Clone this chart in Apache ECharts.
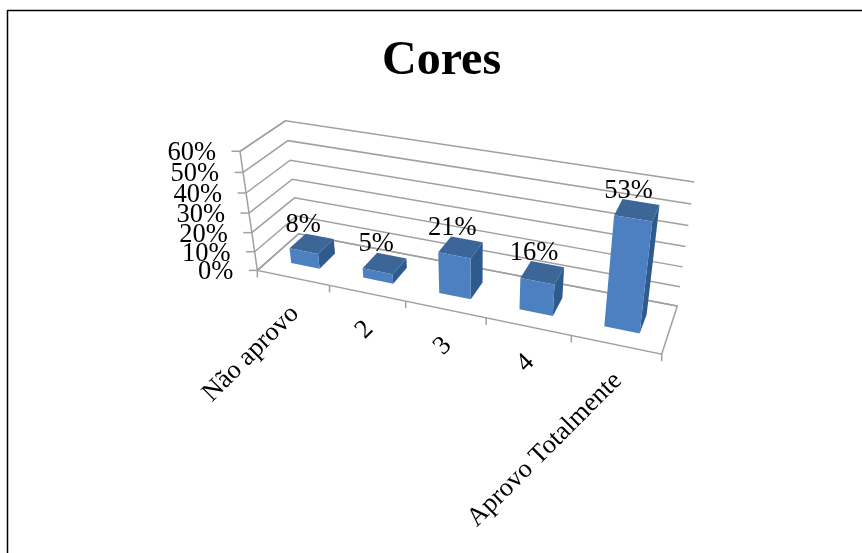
<!DOCTYPE html>
<html>
<head>
<meta charset="utf-8">
<style>html,body{margin:0;padding:0;background:#fff}#chart{width:862px;height:553px}</style>
<script src="https://cdn.jsdelivr.net/npm/echarts@6/dist/echarts.min.js"></script>
</head>
<body>
<div id="chart"></div>
<script>
// Survey results
const categories = ['Não aprovo', '2', '3', '4', 'Aprovo Totalmente'];
const values = [8, 5, 21, 16, 53];
const yTicks = [0, 10, 20, 30, 40, 50, 60];
const yMax = 60;
const serif = 'Liberation Serif';

// Corners of the 3D plot box: [category position 0..1, depth 0..1, height 0..1] -> screen pixel
const boxCorners = [
  [[0, 0, 0], [256.7, 269.3]],
  [[0, 1, 0], [299.3, 235]],
  [[1, 1, 0], [677.3, 305]],
  [[1, 0, 0], [661.7, 355]],
  [[0, 0, 1], [240.7, 151.7]],
  [[0, 1, 1], [285, 120]],
  [[1, 1, 1], [694.3, 182.3]]
];

// Least-squares fit of a 3x4 camera matrix (last entry fixed at 1)
function fitCamera(pairs) {
  const rows = [], rhs = [];
  pairs.forEach(([[X, Y, Z], [x, y]]) => {
    rows.push([X, Y, Z, 1, 0, 0, 0, 0, -x * X, -x * Y, -x * Z]); rhs.push(x);
    rows.push([0, 0, 0, 0, X, Y, Z, 1, -y * X, -y * Y, -y * Z]); rhs.push(y);
  });
  const n = 11;
  const A = [];
  for (let i = 0; i < n; i++) {
    A.push(new Array(n + 1).fill(0));
    for (let j = 0; j < n; j++) rows.forEach(r => { A[i][j] += r[i] * r[j]; });
    rows.forEach((r, k) => { A[i][n] += r[i] * rhs[k]; });
  }
  for (let c = 0; c < n; c++) {
    let piv = c;
    for (let r = c + 1; r < n; r++) if (Math.abs(A[r][c]) > Math.abs(A[piv][c])) piv = r;
    [A[c], A[piv]] = [A[piv], A[c]];
    for (let r = 0; r < n; r++) {
      if (r === c) continue;
      const f = A[r][c] / A[c][c];
      for (let k = c; k <= n; k++) A[r][k] -= f * A[c][k];
    }
  }
  return A.map((row, i) => row[n] / row[i]);
}
const cam = fitCamera(boxCorners);

// Takes a point given in axis units, runs it through the hidden grid's scales, then the camera
function projector(params, api) {
  const cs = params.coordSys;
  return function (catPos, depth, value) {
    const p = api.coord([catPos, value]);
    const X = (p[0] - cs.x) / cs.width;
    const Z = (cs.y + cs.height - p[1]) / cs.height;
    const Y = depth;
    const w = cam[8] * X + cam[9] * Y + cam[10] * Z + 1;
    return [
      (cam[0] * X + cam[1] * Y + cam[2] * Z + cam[3]) / w,
      (cam[4] * X + cam[5] * Y + cam[6] * Z + cam[7]) / w
    ];
  };
}

const gridColor = '#a0a0a0';
const lineStyle = { fill: null, stroke: gridColor, lineWidth: 1.5 };
const textStyle = { fontFamily: serif, fontSize: 26.5, fill: '#000' };

function renderWallLine(params, api) {
  const P = projector(params, api);
  const v = api.value(0);
  const n = categories.length;
  return {
    type: 'polyline',
    shape: { points: [P(0, 0, v), P(0, 1, v), P(n, 1, v)] },
    style: lineStyle, silent: true
  };
}

function renderYTick(params, api) {
  const P = projector(params, api);
  const v = api.value(0);
  const a = P(0, 0, v);
  return {
    type: 'group', silent: true,
    children: [
      { type: 'line', shape: { x1: a[0] - 8.5, y1: a[1], x2: a[0], y2: a[1] }, style: { stroke: gridColor, lineWidth: 1.5 } },
      { type: 'text', x: a[0] - 24, y: a[1] + 2, style: Object.assign({ text: v + '%', align: 'right', verticalAlign: 'middle' }, textStyle) }
    ]
  };
}

function renderBoxFrame(params, api) {
  const P = projector(params, api);
  const n = categories.length;
  const children = [
    { type: 'polyline', shape: { points: [P(0, 1, yMax), P(0, 0, yMax), P(0, 0, 0), P(n, 0, 0), P(n, 1, 0), P(0, 1, 0), P(0, 0, 0)] }, style: lineStyle }
  ];
  for (let i = 0; i <= n; i++) {
    const a = P(i, 0, 0);
    children.push({ type: 'line', shape: { x1: a[0], y1: a[1], x2: a[0], y2: a[1] + 7 }, style: { stroke: gridColor, lineWidth: 1.5 } });
  }
  return { type: 'group', silent: true, children };
}

function renderCategoryLabel(params, api) {
  const P = projector(params, api);
  const i = api.value(0);
  const a = P(i + 0.5, 0, 0);
  return {
    type: 'text', silent: true, x: a[0] + 2, y: a[1] + 32, rotation: Math.PI / 4,
    style: Object.assign({ text: categories[i], align: 'right', verticalAlign: 'middle' }, textStyle)
  };
}

const barFront = '#4c80c0', barTop = '#3b6697', barSide = '#2f5a8e';

function renderBar(params, api) {
  const P = projector(params, api);
  const i = api.value(0), v = api.value(1);
  const u0 = i + 0.3, u1 = i + 0.7, d0 = 0.3, d1 = 0.7;
  const poly = (pts, fill) => ({ type: 'polygon', shape: { points: pts }, style: { fill } });
  return {
    type: 'group', silent: true,
    children: [
      poly([P(u1, d0, 0), P(u1, d1, 0), P(u1, d1, v), P(u1, d0, v)], barSide),
      poly([P(u0, d0, v), P(u1, d0, v), P(u1, d1, v), P(u0, d1, v)], barTop),
      poly([P(u0, d0, 0), P(u1, d0, 0), P(u1, d0, v), P(u0, d0, v)], barFront)
    ]
  };
}

function renderValueLabel(params, api) {
  const P = projector(params, api);
  const i = api.value(0), v = api.value(1);
  const a = P(i + 0.5, 0.5, v);
  return {
    type: 'text', silent: true, x: a[0] - 8.5, y: a[1] - 19,
    style: Object.assign({ text: v + '%', align: 'center', verticalAlign: 'middle' }, textStyle)
  };
}

const barData = values.map((v, i) => [i, v]);
const custom = (renderItem, data) => ({
  type: 'custom', renderItem, data, clip: false, animation: false, silent: true
});

const chart = echarts.init(document.getElementById('chart'), null, { renderer: 'canvas' });
chart.setOption({
  backgroundColor: '#fff',
  animation: false,
  title: {
    text: 'Cores', left: 377, top: 33,
    textStyle: { fontFamily: serif, fontSize: 48, fontWeight: 'bold', color: '#000' }
  },
  grid: { left: 240, top: 120, width: 455, height: 240 },
  xAxis: { type: 'value', min: 0, max: categories.length, show: false },
  yAxis: { type: 'value', min: 0, max: yMax, interval: 10, show: false },
  graphic: [
    { type: 'line', silent: true, shape: { x1: 7.5, y1: 10.5, x2: 862, y2: 10.5 }, style: { stroke: '#000', lineWidth: 1.5 } },
    { type: 'line', silent: true, shape: { x1: 7.5, y1: 10, x2: 7.5, y2: 553 }, style: { stroke: '#000', lineWidth: 1.5 } }
  ],
  series: [
    custom(renderWallLine, yTicks.map(t => [t])),
    custom(renderBoxFrame, [[0]]),
    custom(renderYTick, yTicks.map(t => [t])),
    custom(renderBar, barData),
    custom(renderValueLabel, barData),
    custom(renderCategoryLabel, categories.map((c, i) => [i]))
  ]
});
</script>
</body>
</html>
